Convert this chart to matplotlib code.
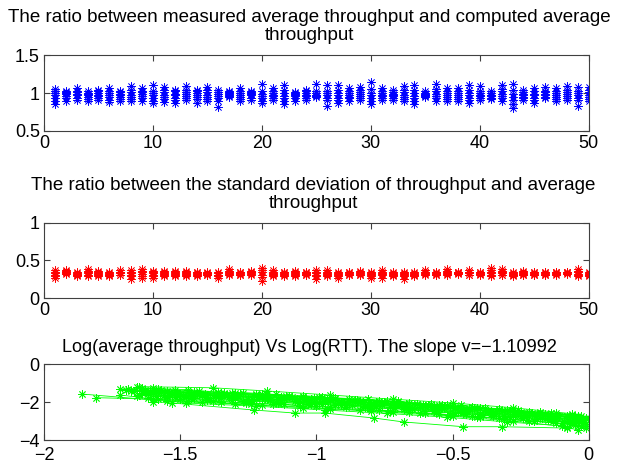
import numpy as np
import matplotlib
matplotlib.use('Agg')
import matplotlib.pyplot as plt

plt.rcParams['font.family'] = ['Liberation Sans', 'DejaVu Sans']
plt.rcParams['font.size'] = 13

# panel 1: measured / computed average throughput, several runs per flow
ratio_avg = [
    [0.85, 0.90, 0.94, 0.97, 1.00, 1.02, 1.05],
    [0.90, 0.93, 0.96, 0.99, 1.00, 1.01, 1.02],
    [0.91, 0.94, 0.97, 0.99, 1.01, 1.03, 1.06],
    [0.90, 0.92, 0.95, 0.97, 0.99, 1.00, 1.02],
    [0.91, 0.93, 0.96, 0.98, 1.00, 1.02, 1.04],
    [0.88, 0.91, 0.95, 0.97, 1.00, 1.03, 1.06],
    [0.90, 0.92, 0.95, 0.97, 0.99, 1.01, 1.02],
    [0.89, 0.92, 0.95, 0.98, 1.01, 1.04, 1.09],
    [0.89, 0.93, 0.96, 0.99, 1.01, 1.03, 1.07],
    [0.87, 0.90, 0.94, 0.97, 1.00, 1.03, 1.11],
    [0.88, 0.92, 0.95, 0.98, 1.01, 1.04, 1.08],
    [0.87, 0.91, 0.94, 0.97, 0.99, 1.02, 1.04],
    [0.91, 0.93, 0.96, 0.99, 1.01, 1.04, 1.09],
    [0.87, 0.92, 0.95, 0.97, 1.00, 1.02, 1.04],
    [0.90, 0.92, 0.95, 0.98, 1.01, 1.04, 1.08],
    [0.81, 0.90, 0.93, 0.96, 0.99, 1.01, 1.04],
    [0.95, 0.96, 0.98, 0.99, 1.00, 1.01, 1.02],
    [0.90, 0.92, 0.95, 0.98, 1.00, 1.03, 1.07],
    [0.91, 0.94, 0.97, 0.99, 1.00, 1.01, 1.03],
    [0.87, 0.90, 0.93, 0.96, 0.99, 1.03, 1.12],
    [0.91, 0.94, 0.96, 0.98, 1.00, 1.02, 1.06],
    [0.86, 0.89, 0.93, 0.96, 1.00, 1.04, 1.10],
    [0.90, 0.93, 0.96, 0.98, 0.99, 1.00, 1.01],
    [0.91, 0.93, 0.96, 0.98, 1.00, 1.02, 1.04],
    [0.95, 0.96, 0.97, 0.98, 1.00, 1.02, 1.12],
    [0.83, 0.91, 0.94, 0.97, 1.00, 1.03, 1.10],
    [0.87, 0.91, 0.94, 0.97, 1.00, 1.04, 1.10],
    [0.90, 0.93, 0.95, 0.98, 1.00, 1.02, 1.06],
    [0.91, 0.93, 0.96, 0.99, 1.01, 1.04, 1.08],
    [0.86, 0.90, 0.94, 0.97, 1.00, 1.05, 1.14],
    [0.91, 0.94, 0.96, 0.98, 1.00, 1.02, 1.06],
    [0.91, 0.93, 0.96, 0.98, 0.99, 1.01, 1.04],
    [0.89, 0.92, 0.95, 0.98, 1.01, 1.04, 1.09],
    [0.85, 0.89, 0.93, 0.96, 1.00, 1.04, 1.10],
    [0.95, 0.96, 0.97, 0.98, 0.99, 1.00, 1.02],
    [0.89, 0.93, 0.96, 0.99, 1.02, 1.05, 1.12],
    [0.89, 0.92, 0.95, 0.98, 1.00, 1.03, 1.06],
    [0.90, 0.92, 0.95, 0.98, 1.00, 1.03, 1.07],
    [0.87, 0.91, 0.94, 0.97, 1.00, 1.04, 1.10],
    [0.91, 0.93, 0.96, 0.98, 1.00, 1.03, 1.09],
    [0.92, 0.94, 0.96, 0.97, 0.98, 1.00, 1.02],
    [0.90, 0.93, 0.96, 0.99, 1.02, 1.05, 1.10],
    [0.80, 0.86, 0.91, 0.95, 0.99, 1.04, 1.12],
    [0.91, 0.93, 0.95, 0.97, 0.99, 1.01, 1.04],
    [0.87, 0.91, 0.94, 0.97, 0.99, 1.02, 1.06],
    [0.94, 0.95, 0.97, 0.99, 1.01, 1.03, 1.08],
    [0.89, 0.92, 0.95, 0.98, 1.00, 1.03, 1.06],
    [0.91, 0.93, 0.96, 0.99, 1.01, 1.04, 1.09],
    [0.83, 0.91, 0.94, 0.97, 1.00, 1.03, 1.08],
    [0.89, 0.92, 0.95, 0.98, 1.01, 1.04, 1.08],
]

# panel 2: std of throughput / average throughput
ratio_std = [
    [0.26, 0.29, 0.31, 0.33, 0.35, 0.37],
    [0.32, 0.33, 0.34, 0.35, 0.36, 0.37],
    [0.29, 0.30, 0.31, 0.32, 0.33, 0.35],
    [0.29, 0.31, 0.33, 0.34, 0.36, 0.38],
    [0.29, 0.31, 0.32, 0.33, 0.35, 0.36],
    [0.29, 0.30, 0.31, 0.32, 0.33, 0.35],
    [0.30, 0.31, 0.33, 0.34, 0.35, 0.37],
    [0.25, 0.29, 0.31, 0.33, 0.35, 0.37],
    [0.27, 0.29, 0.32, 0.34, 0.36, 0.38],
    [0.26, 0.29, 0.31, 0.33, 0.35, 0.36],
    [0.29, 0.31, 0.32, 0.33, 0.35, 0.36],
    [0.29, 0.30, 0.32, 0.33, 0.35, 0.36],
    [0.29, 0.31, 0.32, 0.33, 0.34, 0.36],
    [0.29, 0.30, 0.32, 0.33, 0.34, 0.35],
    [0.30, 0.31, 0.32, 0.33, 0.33, 0.34],
    [0.27, 0.29, 0.30, 0.31, 0.33, 0.34],
    [0.30, 0.32, 0.33, 0.34, 0.36, 0.38],
    [0.30, 0.31, 0.32, 0.33, 0.34, 0.35],
    [0.31, 0.32, 0.33, 0.34, 0.35, 0.36],
    [0.23, 0.28, 0.31, 0.34, 0.37, 0.40],
    [0.29, 0.30, 0.32, 0.33, 0.35, 0.37],
    [0.29, 0.30, 0.32, 0.33, 0.34, 0.35],
    [0.29, 0.31, 0.32, 0.33, 0.34, 0.36],
    [0.30, 0.31, 0.32, 0.33, 0.34, 0.35],
    [0.25, 0.29, 0.31, 0.33, 0.35, 0.37],
    [0.29, 0.30, 0.32, 0.33, 0.35, 0.37],
    [0.26, 0.29, 0.31, 0.32, 0.33, 0.35],
    [0.30, 0.31, 0.32, 0.33, 0.34, 0.35],
    [0.30, 0.31, 0.32, 0.33, 0.34, 0.36],
    [0.26, 0.29, 0.31, 0.32, 0.33, 0.35],
    [0.27, 0.30, 0.32, 0.33, 0.35, 0.37],
    [0.29, 0.30, 0.31, 0.32, 0.33, 0.34],
    [0.25, 0.29, 0.31, 0.32, 0.33, 0.34],
    [0.29, 0.30, 0.31, 0.32, 0.33, 0.35],
    [0.31, 0.32, 0.33, 0.34, 0.35, 0.37],
    [0.30, 0.31, 0.32, 0.33, 0.34, 0.35],
    [0.30, 0.32, 0.33, 0.35, 0.36, 0.38],
    [0.32, 0.33, 0.33, 0.34, 0.34, 0.35],
    [0.30, 0.31, 0.33, 0.34, 0.35, 0.37],
    [0.31, 0.32, 0.32, 0.33, 0.34, 0.35],
    [0.29, 0.31, 0.33, 0.35, 0.37, 0.40],
    [0.30, 0.31, 0.33, 0.34, 0.36, 0.38],
    [0.29, 0.30, 0.31, 0.32, 0.33, 0.34],
    [0.30, 0.31, 0.32, 0.33, 0.34, 0.36],
    [0.30, 0.31, 0.32, 0.33, 0.34, 0.35],
    [0.30, 0.31, 0.32, 0.33, 0.34, 0.35],
    [0.31, 0.32, 0.33, 0.34, 0.35, 0.35],
    [0.32, 0.33, 0.34, 0.34, 0.35, 0.35],
    [0.29, 0.30, 0.32, 0.34, 0.36, 0.38],
    [0.29, 0.30, 0.31, 0.32, 0.33, 0.35],
]

# panel 3: log(RTT) vs log(average throughput), one line per run
log_rtt = [
    [-1.86, -1.55, -1.30, -1.05, -0.80, -0.60, -0.40, -0.20, -0.05],
    [-1.81, -1.60, -1.42, -1.20, -0.95, -0.72, -0.50, -0.28, -0.08],
    [-1.72, -1.64, -1.55, -1.45, -1.35, -1.22, -1.10, -0.98, -0.85, -0.70, -0.55, -0.42, -0.30, -0.18, -0.06, -0.01],
    [-1.66, -1.58, -1.47, -1.36, -1.27, -1.15, -1.05, -0.94, -0.85, -0.74, -0.63, -0.52, -0.43, -0.33, -0.22, -0.12, -0.03],
    [-1.63, -1.54, -1.44, -1.33, -1.22, -1.12, -1.02, -0.91, -0.80, -0.69, -0.58, -0.47, -0.37, -0.26, -0.16, -0.06, -0.01],
    [-1.68, -1.60, -1.51, -1.40, -1.30, -1.19, -1.08, -0.97, -0.87, -0.76, -0.65, -0.55, -0.45, -0.35, -0.24, -0.14, -0.04],
    [-1.65, -1.55, -1.45, -1.35, -1.24, -1.13, -1.03, -0.93, -0.82, -0.71, -0.60, -0.50, -0.39, -0.29, -0.19, -0.09, -0.02],
    [-1.62, -1.50, -1.38, -1.26, -1.16, -1.06, -0.95, -0.84, -0.73, -0.62, -0.51, -0.41, -0.31, -0.20, -0.10, -0.01],
    [-1.57, -1.46, -1.34, -1.21, -1.09, -0.96, -0.83, -0.70, -0.57, -0.44, -0.32, -0.21, -0.08, 0.00],
    [-1.64, -1.56, -1.48, -1.41, -1.32, -1.25, -1.17, -1.07, -0.99, -0.89, -0.78, -0.67, -0.56, -0.46, -0.36, -0.27, -0.17, -0.07, -0.02],
    [-1.72, -1.48, -1.22, -0.97, -0.74, -0.52, -0.30, -0.10, -0.01],
    [-1.65, -1.38, -1.18, -0.95, -0.72, -0.50, -0.28, -0.06],
    [-1.60, -1.53, -1.23, -1.08, -0.97, -0.79, -0.68, -0.46, -0.32, -0.08, -0.04],
    [-1.60, -1.52, -1.43, -1.31, -1.20, -1.10, -0.99, -0.88, -0.77, -0.66, -0.54, -0.42, -0.30, -0.18, -0.05],
    [-1.70, -1.61, -1.53, -1.42, -1.29, -1.18, -1.04, -0.92, -0.81, -0.68, -0.56, -0.45, -0.34, -0.23, -0.13, -0.03],
    [-1.67, -1.62, -1.57, -1.50, -1.43, -1.37, -1.29, -1.20, -1.13, -1.04, -0.96, -0.86, -0.78, -0.69, -0.61, -0.53, -0.44, -0.36, -0.27, -0.19, -0.11, -0.03],
    [-1.66, -1.59, -1.52, -1.46, -1.39, -1.31, -1.23, -1.15, -1.06, -0.98, -0.90, -0.82, -0.73, -0.65, -0.57, -0.48, -0.40, -0.31, -0.23, -0.15, -0.07, -0.01],
    [-1.69, -1.63, -1.58, -1.51, -1.44, -1.36, -1.28, -1.19, -1.11, -1.01, -0.93, -0.84, -0.75, -0.67, -0.59, -0.49, -0.41, -0.33, -0.25, -0.16, -0.08, -0.02],
    [-1.58, -1.47, -1.35, -1.24, -1.12, -1.00, -0.89, -0.77, -0.66, -0.55, -0.43, -0.33, -0.22, -0.12, -0.03],
    [-1.61, -1.53, -1.46, -1.37, -1.30, -1.21, -1.14, -1.05, -0.97, -0.88, -0.80, -0.71, -0.62, -0.54, -0.46, -0.37, -0.28, -0.20, -0.12, -0.04],
    [-1.30, -1.18, -1.05, -0.93, -0.81, -0.70, -0.58, -0.47, -0.38, -0.26, -0.14, -0.04],
    [-1.55, -1.40, -1.27, -1.14, -1.02, -0.91, -0.80, -0.68, -0.56, -0.45, -0.35, -0.24, -0.13, -0.05],
    [-1.64, -1.53, -1.41, -1.30, -1.18, -1.07, -0.95, -0.84, -0.72, -0.60, -0.49, -0.38, -0.26, -0.15, -0.05],
    [-1.62, -1.49, -1.36, -1.25, -1.13, -1.01, -0.90, -0.79, -0.68, -0.57, -0.46, -0.35, -0.25, -0.14, -0.05],
    [-1.60, -1.47, -1.34, -1.22, -1.10, -0.98, -0.86, -0.75, -0.63, -0.51, -0.40, -0.29, -0.17, -0.06],
]
log_thr = [
    [-1.58, -1.95, -2.10, -2.30, -2.45, -2.60, -2.80, -3.00, -3.20],
    [-1.77, -1.85, -2.00, -2.15, -2.35, -2.55, -2.75, -3.00, -3.30],
    [-1.32, -1.28, -1.40, -1.45, -1.55, -1.60, -1.70, -1.80, -1.90, -2.00, -2.15, -2.30, -2.40, -2.55, -2.70, -2.85],
    [-1.22, -1.30, -1.35, -1.48, -1.50, -1.60, -1.72, -1.78, -1.88, -1.95, -2.08, -2.16, -2.28, -2.36, -2.50, -2.58, -2.72],
    [-1.36, -1.50, -1.52, -1.65, -1.70, -1.82, -1.86, -1.98, -2.05, -2.18, -2.25, -2.40, -2.46, -2.60, -2.70, -2.80, -2.90],
    [-1.40, -1.55, -1.62, -1.64, -1.78, -1.80, -1.96, -2.00, -2.14, -2.16, -2.32, -2.38, -2.52, -2.58, -2.75, -2.80, -2.98],
    [-1.62, -1.66, -1.78, -1.80, -1.94, -2.00, -2.10, -2.16, -2.28, -2.34, -2.48, -2.56, -2.66, -2.80, -2.88, -3.00, -3.12],
    [-1.78, -1.86, -1.92, -2.05, -2.10, -2.20, -2.28, -2.40, -2.46, -2.58, -2.70, -2.78, -2.90, -3.02, -3.12, -3.25],
    [-1.38, -1.50, -1.56, -1.68, -1.76, -1.90, -1.98, -2.12, -2.22, -2.36, -2.48, -2.58, -2.76, -2.84],
    [-1.50, -1.64, -1.66, -1.74, -1.76, -1.86, -1.88, -2.00, -2.04, -2.16, -2.22, -2.34, -2.42, -2.56, -2.62, -2.74, -2.84, -2.98, -3.05],
    [-1.63, -2.05, -2.22, -2.42, -2.60, -2.80, -3.05, -3.25, -3.35],
    [-1.19, -1.25, -1.42, -1.63, -1.85, -2.05, -2.30, -2.62],
    [-1.98, -2.05, -2.42, -2.58, -2.58, -2.84, -3.05, -3.30, -3.30, -3.37, -3.45],
    [-1.28, -1.36, -1.44, -1.52, -1.60, -1.70, -1.76, -1.86, -1.96, -2.06, -2.18, -2.30, -2.44, -2.56, -2.74],
    [-1.36, -1.42, -1.56, -1.62, -1.70, -1.82, -1.90, -2.04, -2.10, -2.24, -2.34, -2.48, -2.56, -2.70, -2.82, -2.92],
    [-1.42, -1.50, -1.48, -1.58, -1.56, -1.64, -1.66, -1.74, -1.76, -1.84, -1.86, -1.98, -2.02, -2.14, -2.18, -2.30, -2.34, -2.48, -2.54, -2.68, -2.76, -2.92],
    [-1.66, -1.68, -1.76, -1.78, -1.80, -1.88, -1.90, -1.98, -2.00, -2.08, -2.12, -2.22, -2.28, -2.36, -2.46, -2.52, -2.62, -2.72, -2.80, -2.94, -3.04, -3.14],
    [-1.34, -1.42, -1.40, -1.50, -1.50, -1.58, -1.60, -1.68, -1.70, -1.80, -1.82, -1.92, -1.98, -2.10, -2.14, -2.26, -2.32, -2.44, -2.52, -2.64, -2.74, -2.86],
    [-1.84, -1.94, -1.98, -2.08, -2.12, -2.22, -2.28, -2.42, -2.50, -2.62, -2.74, -2.84, -2.98, -3.10, -3.24],
    [-1.56, -1.56, -1.66, -1.66, -1.76, -1.74, -1.86, -1.86, -1.96, -1.98, -2.12, -2.14, -2.28, -2.30, -2.44, -2.48, -2.64, -2.68, -2.86, -2.92],
    [-1.52, -1.60, -1.66, -1.78, -1.86, -1.96, -2.10, -2.16, -2.30, -2.42, -2.60, -2.74],
    [-1.76, -1.88, -1.92, -2.04, -2.08, -2.18, -2.30, -2.38, -2.52, -2.62, -2.74, -2.86, -3.00, -3.12],
    [-1.44, -1.56, -1.58, -1.70, -1.72, -1.82, -1.88, -2.00, -2.08, -2.22, -2.30, -2.44, -2.56, -2.72, -2.86],
    [-1.60, -1.70, -1.74, -1.86, -1.88, -1.98, -2.06, -2.18, -2.26, -2.40, -2.46, -2.62, -2.72, -2.86, -3.02],
    [-1.38, -1.48, -1.54, -1.62, -1.70, -1.76, -1.88, -1.98, -2.10, -2.22, -2.34, -2.46, -2.62, -2.78],
]

flows = np.arange(1, 51)
star = (8, 2, 0)


def style_axes(ax):
    ax.tick_params(direction='in', top=True, right=True, length=4,
                   width=0.8, color='#404040', pad=3, labelsize=13)
    for s in ax.spines.values():
        s.set_color('#404040')
        s.set_linewidth(0.8)


fig = plt.figure(figsize=(6.17, 4.69), dpi=100)

ax1 = fig.add_axes([0.0713, 0.7207, 0.883, 0.162])
ax1.plot(flows, np.array(ratio_avg), linestyle='none', marker=star,
         color='b', markersize=6, markeredgewidth=0.5)
ax1.set_xlim(0, 50)
ax1.set_ylim(0.5, 1.5)
ax1.set_xticks([0, 10, 20, 30, 40, 50])
ax1.set_yticks([0.5, 1, 1.5])
ax1.set_yticklabels(['0.5', '1', '1.5'])
ax1.set_title('The ratio between measured average throughput and computed average\nthroughput',
              fontsize=13.5, pad=11, linespacing=1.05, x=0.487)
style_axes(ax1)

ax2 = fig.add_axes([0.0713, 0.3646, 0.883, 0.160])
ax2.plot(flows, np.array(ratio_std), linestyle='none', marker=star,
         color='r', markersize=6, markeredgewidth=0.5)
ax2.set_xlim(0, 50)
ax2.set_ylim(0, 1)
ax2.set_xticks([0, 10, 20, 30, 40, 50])
ax2.set_yticks([0, 0.5, 1])
ax2.set_yticklabels(['0', '0.5', '1'])
ax2.set_title('The ratio between the standard deviation of throughput and average\nthroughput',
              fontsize=13.5, pad=11, linespacing=1.05, x=0.494)
style_axes(ax2)

ax3 = fig.add_axes([0.0713, 0.0618, 0.883, 0.162])
for xs, ys in zip(log_rtt, log_thr):
    ax3.plot(xs, ys, color=(0, 1, 0), linewidth=0.6, marker=star,
             markersize=6, markeredgewidth=0.6)
ax3.set_xlim(-2, 0)
ax3.set_ylim(-4, 0)
ax3.set_xticks([-2, -1.5, -1, -0.5, 0])
ax3.set_xticklabels(['\u22122', '\u22121.5', '\u22121', '\u22120.5', '0'])
ax3.set_yticks([-4, -2, 0])
ax3.set_yticklabels(['\u22124', '\u22122', '0'])
ax3.set_title('Log(average throughput) Vs Log(RTT). The slope v=\u22121.10992',
              fontsize=13, pad=9, x=0.487)
style_axes(ax3)
ax3.tick_params(axis='x', pad=5)

fig.savefig('out.png', dpi=100, facecolor='white')
